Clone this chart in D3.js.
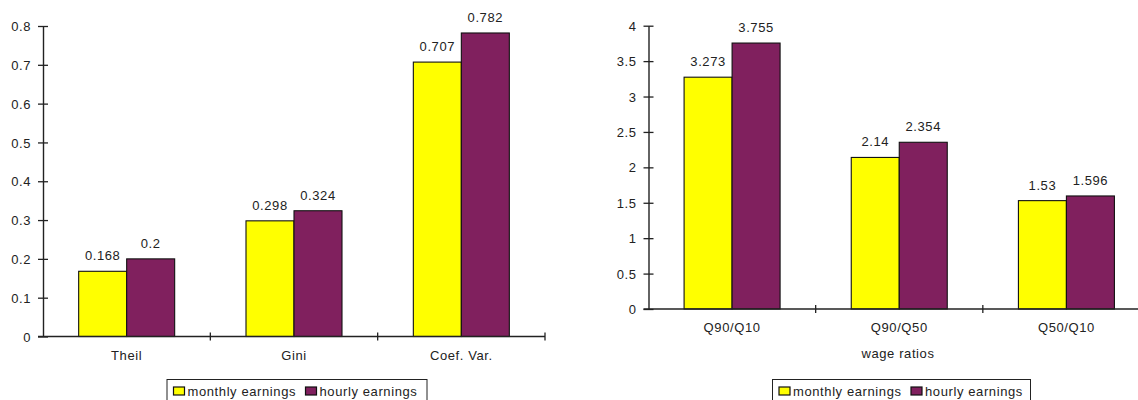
<!DOCTYPE html>
<html>
<head>
<meta charset="utf-8">
<script src="https://cdn.jsdelivr.net/npm/d3@7"></script>
<style>
  html, body { margin: 0; padding: 0; background: #fff; }
  svg { display: block; }
  text { font-family: "Liberation Sans", Arial, sans-serif; font-size: 13px; fill: #222; letter-spacing: 0.6px; }
</style>
</head>
<body>
<svg id="chart" width="1138" height="400"></svg>
<script>
// Inequality measures (left panel)
const measureCategories = ["Theil", "Gini", "Coef. Var."];
const measureMonthly = [0.168, 0.298, 0.707];
const measureHourly = [0.2, 0.324, 0.782];
const measureTicks = [0, 0.1, 0.2, 0.3, 0.4, 0.5, 0.6, 0.7, 0.8];

// Wage ratios (right panel)
const ratioCategories = ["Q90/Q10", "Q90/Q50", "Q50/Q10"];
const ratioMonthly = [3.273, 2.14, 1.53];
const ratioHourly = [3.755, 2.354, 1.596];
const ratioTicks = [0, 0.5, 1, 1.5, 2, 2.5, 3, 3.5, 4];
const ratioTickLabels = ["0", "0.5", "1", "1.5", "2", "2.5", "3", "3.5", "4"];

const seriesNames = ["monthly earnings", "hourly earnings"];
const seriesColors = ["#FFFF00", "#80205E"];

const svg = d3.select("#chart");

function drawPanel(opts) {
  const g = svg.append("g");
  const x = d3.scaleBand().domain(opts.categories).range([opts.x0, opts.x1]).paddingInner(0).paddingOuter(0);
  const y = d3.scaleLinear().domain([0, opts.yMax]).range([opts.y0, opts.y1]);
  const barW = 48;

  const rows = opts.categories.map((c, i) => ({ cat: c, vals: [opts.monthly[i], opts.hourly[i]] }));

  // bars with value labels
  rows.forEach(r => {
    const cx = x(r.cat) + x.bandwidth() / 2;
    r.vals.forEach((v, k) => {
      const bx = cx - barW + k * barW;
      g.append("rect")
        .attr("x", bx).attr("y", y(v))
        .attr("width", barW).attr("height", y(0) - y(v))
        .attr("fill", seriesColors[k])
        .attr("stroke", "#111").attr("stroke-width", 1.1);
      g.append("text")
        .attr("x", bx + barW / 2).attr("y", y(v) - 11)
        .attr("text-anchor", "middle")
        .text(String(v));
    });
  });

  // y axis
  const yAxis = d3.axisLeft(y).tickValues(opts.ticks).tickSize(0)
    .tickFormat((d, i) => opts.tickLabels ? opts.tickLabels[i] : String(d));
  const ya = g.append("g").attr("transform", `translate(${opts.x0},0)`).call(yAxis);
  ya.select(".domain").attr("stroke", "#222").attr("stroke-width", 1.4);
  ya.selectAll(".tick text").attr("x", -12).attr("dy", "0.35em")
    .style("font-family", "Liberation Sans, Arial, sans-serif").style("font-size", "13px")
    .style("letter-spacing", "0.6px").attr("fill", "#222");
  ya.selectAll(".tick").append("line").attr("x1", -5).attr("x2", 5).attr("stroke", "#222").attr("stroke-width", 1.3);

  // x axis
  const xa = g.append("g").attr("transform", `translate(0,${opts.y0})`);
  xa.append("line").attr("x1", opts.x0 - 5).attr("x2", opts.x1).attr("stroke", "#222").attr("stroke-width", 1.4);
  opts.categories.forEach(c => {
    const tx = x(c) + x.bandwidth();
    xa.append("line").attr("x1", tx).attr("x2", tx).attr("y1", -4).attr("y2", 4)
      .attr("stroke", "#222").attr("stroke-width", 1.3);
    xa.append("text").attr("x", x(c) + x.bandwidth() / 2).attr("y", 23)
      .attr("text-anchor", "middle").text(c);
  });
  if (opts.xTitle) {
    xa.append("text").attr("x", opts.titleX).attr("y", 48.5)
      .attr("text-anchor", "middle").text(opts.xTitle);
  }

  // legend
  const lg = g.append("g").attr("transform", `translate(${opts.legendX},379.5)`);
  lg.append("rect").attr("x", 0).attr("y", 0).attr("width", opts.legendW).attr("height", 30)
    .attr("fill", "#fff").attr("stroke", "#222").attr("stroke-width", 1);
  const itemX = [6.5, 138.5];
  seriesNames.forEach((s, k) => {
    lg.append("rect").attr("x", itemX[k]).attr("y", 7.5).attr("width", 11).attr("height", 8)
      .attr("fill", seriesColors[k]).attr("stroke", "#111").attr("stroke-width", 1.2);
    lg.append("text").attr("x", itemX[k] + 14).attr("y", 16.5).text(s);
  });
}

drawPanel({
  categories: measureCategories, monthly: measureMonthly, hourly: measureHourly,
  ticks: measureTicks, yMax: 0.8,
  x0: 43, x1: 545, y0: 336.5, y1: 26,
  legendX: 167, legendW: 260
});

drawPanel({
  categories: ratioCategories, monthly: ratioMonthly, hourly: ratioHourly,
  ticks: ratioTicks, tickLabels: ratioTickLabels, yMax: 4,
  x0: 648.5, x1: 1150, y0: 309, y1: 25.7,
  xTitle: "wage ratios", titleX: 898,
  legendX: 772.5, legendW: 258
});
</script>
</body>
</html>
